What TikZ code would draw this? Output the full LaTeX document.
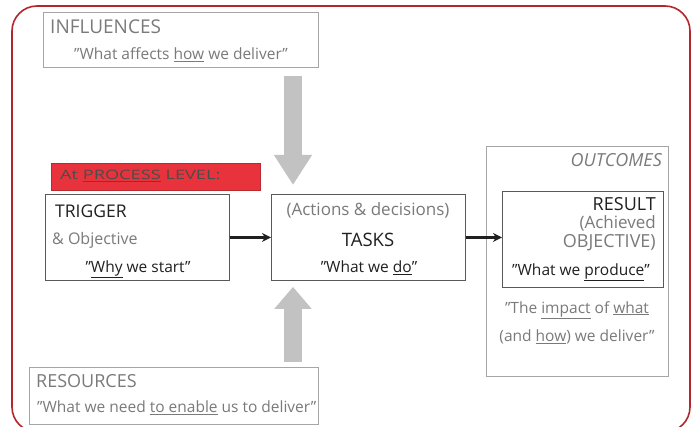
\documentclass[tikz,border=0pt]{standalone}
\usepackage{fontspec}
\setmainfont{Open Sans}
\usetikzlibrary{arrows.meta,calc}
\definecolor{frame}{HTML}{B5262C}
\definecolor{lab}{HTML}{E8323C}
\definecolor{gtxt}{HTML}{7A7A7A}
\definecolor{btxt}{HTML}{202020}
\definecolor{garrow}{HTML}{C2C2C2}
\newcommand{\fs}[1]{\fontsize{#1pt}{#1pt}\selectfont}
\tikzset{
  graybox/.style={draw=black!35, line width=0.9pt, rectangle, inner sep=0pt, anchor=north west},
  darkbox/.style={draw=black!65, line width=0.9pt, rectangle, inner sep=0pt, anchor=north west},
  gt/.style={text=gtxt, inner sep=0pt, font=\fs{15.5}},
  bt/.style={text=btxt, inner sep=0pt, font=\fs{15.5}},
  fatdown/.style={draw=garrow, line width=18pt, -{Triangle[width=36pt,length=30pt]}},
  fatup/.style={draw=garrow, line width=18pt, -{Triangle[width=36pt,length=22pt]}},
  flow/.style={draw=btxt, line width=2.4pt, -{Stealth[length=9pt,width=9pt]}}
}
\begin{document}
\begin{tikzpicture}[x=1pt,y=-1pt]
\useasboundingbox (0,0) rectangle (698,427);
\clip (0,0) rectangle (698,427);
\fill[white] (0,0) rectangle (698,427);
\draw[frame, line width=1.6pt, rounded corners=25pt] (12,6) rectangle (690,432);

% boxes
\node[graybox, minimum width=275pt, minimum height=55pt] (infl) at (43,12) {};
\node[graybox, minimum width=289pt, minimum height=57pt] (res) at (29,367) {};
\node[graybox, minimum width=182pt, minimum height=230pt] (outc) at (486,146) {};
\node[darkbox, minimum width=184pt, minimum height=86pt] (trig) at (45,194) {};
\node[darkbox, minimum width=194pt, minimum height=86pt] (tasks) at (271,194) {};
\node[darkbox, minimum width=161pt, minimum height=96pt] (result) at (502,191) {};
\node[fill=lab, draw=lab!80!black, line width=0.4pt, inner sep=0pt, anchor=north west, minimum width=209pt, minimum height=27pt] (lvl) at (51,163) {};

% texts
\node[gt, anchor=west, font=\fs{19}] (t1) at (50,27) {INFLUENCES};
\node[gt] (t2) at (181,55) {"What affects \underline{how} we deliver"};
\node[bt, anchor=west, text=black!70, font=\fs{13}] (t3) at (60,176) {\scalebox{1.4}[1]{At \underline{PROCESS} LEVEL:}};
\node[bt, anchor=west, font=\fs{17.5}] (t4) at (55,211) {TRIGGER};
\node[gt, anchor=west, font=\fs{16}] (t5) at (52,240) {\& Objective};
\node[bt] (t6) at (138,269) {"\underline{Why} we start"};
\node[gt, font=\fs{17}] (t7) at (368,210) {(Actions \& decisions)};
\node[bt, font=\fs{18.5}] (t8) at (368,240) {TASKS};
\node[bt] (t9) at (369,268) {"What we \underline{do}"};
\node[gt, anchor=east, font=\fs{18}\itshape] (t10) at (662,160) {OUTCOMES};
\node[bt, anchor=east, font=\fs{18}] (t11) at (656,204) {RESULT};
\node[gt, anchor=east, font=\fs{17}] (t12) at (656,223) {(Achieved};
\node[gt, anchor=east, font=\fs{18}] (t13) at (656,243) {OBJECTIVE)};
\node[bt] (t14) at (581,272) {"What we \underline{produce}"};
\node[gt] (t15) at (577,310) {"The \underline{impact} of \underline{what}};
\node[gt] (t16) at (577,337) {(and \underline{how}) we deliver"};
\node[gt, anchor=west, font=\fs{18}] (t17) at (36,381) {RESOURCES};
\node[gt, anchor=west] (t18) at (37,408) {"What we need \underline{to enable} us to deliver"};

% connectors
\coordinate (ax) at (293,0);
\draw[fatdown, shorten <=8pt, shorten >=9pt] (infl.south -| ax) -- (tasks.north -| ax);
\draw[fatup, shorten <=5pt, shorten >=6pt] (res.north -| ax) -- (tasks.south -| ax);
\draw[flow] (trig.east) -- (tasks.west);
\draw[flow] (tasks.east) -- (result.west |- tasks.east);
\end{tikzpicture}
\end{document}
